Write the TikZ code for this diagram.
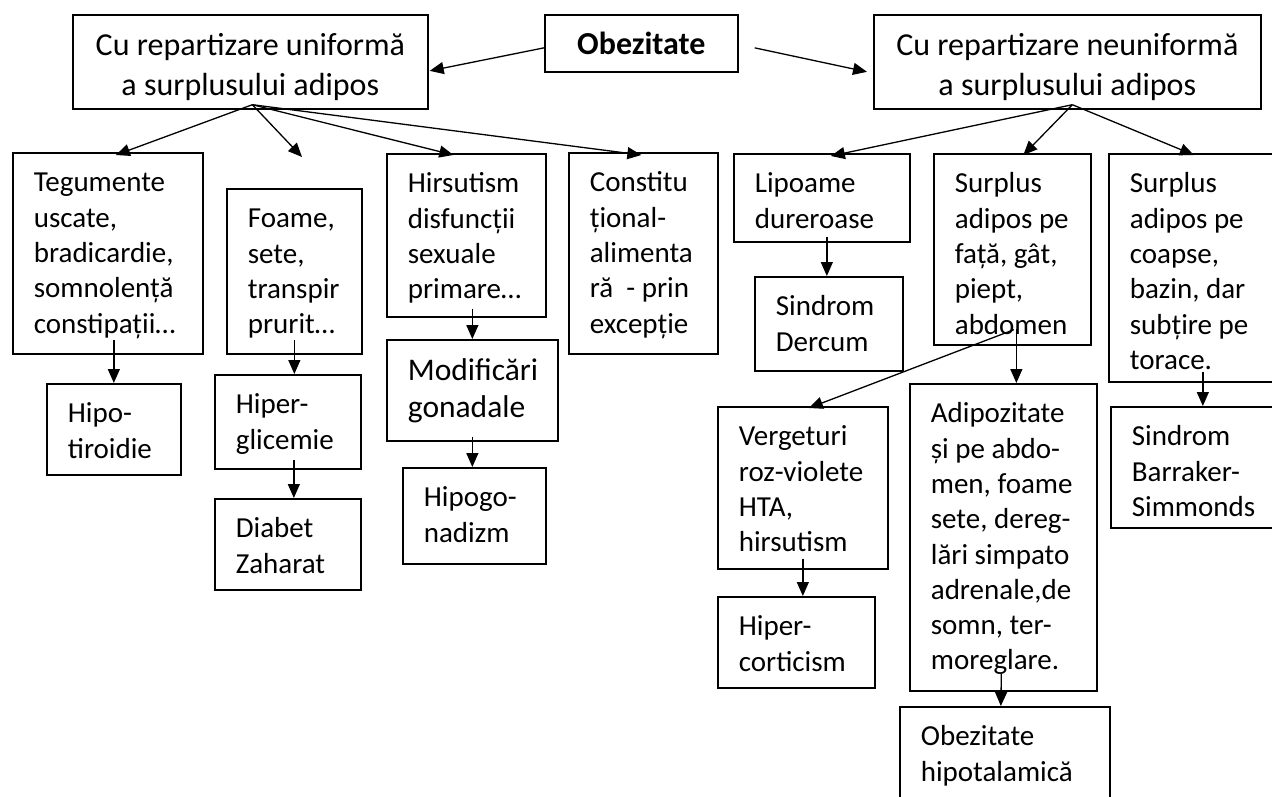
\documentclass[tikz,border=0pt]{standalone}
\usepackage{fontspec}
\setmainfont{Carlito}
\usetikzlibrary{arrows.meta, calc}
\hyphenpenalty=10000
\exhyphenpenalty=10000

\begin{document}
\begin{tikzpicture}[x=1pt, y=-1pt,
	head/.style={draw, line width=1.7pt, inner sep=0pt, anchor=north west, align=flush center, text height=41pt, text depth=53pt, font=\fontsize{32}{40}\selectfont},
	box/.style={draw, line width=1.7pt, inner xsep=21pt, inner ysep=0pt, anchor=north west, align=flush left, text height=39pt, font=\fontsize{29}{35.3}\selectfont},
	arr/.style={line width=1.3pt, -{Triangle[length=14pt, width=12pt]}}]
	\useasboundingbox (0,0) rectangle (1272,796);
	\node (uni) at (72,14) [head, text width=355pt] {Cu repartizare uniformă\\a surplusului adipos};
	\node (obez) at (544,14) [draw, line width=1.7pt, inner sep=0pt, anchor=north west, font=\bfseries\fontsize{32}{39}\selectfont, minimum width=193pt, minimum height=57pt] {Obezitate};
	\node (neuni) at (873,14) [head, text width=387pt] {Cu repartizare neuniformă\\a surplusului adipos};
	\node (teg) at (12,152) [box, text width=148pt, text depth=162pt] {Tegumente\\uscate,\\bradicardie,\\somnolență\\constipații…};
	\node (foame) at (226,188) [box, text width=93pt, text depth=126pt] {Foame,\\sete,\\transpir\\prurit…};
	\node (hirs) at (386,153) [box, text width=117pt, text depth=124pt] {Hirsutism\\disfuncții\\sexuale\\primare…};
	\node (const) at (568,152) [box, text width=107pt, text depth=162pt] {Constitu\\țional-\\alimenta\\ră~~-~prin\\excepție};
	\node (lipo) at (733,153) [box, text width=134pt, text depth=49pt] {Lipoame\\dureroase};
	\node (sfata) at (933,153) [box, text width=115pt, text depth=152pt] {Surplus\\adipos~pe\\față,~gât,\\piept,\\abdomen};
	\node (scoap) at (1108,153) [box, text width=170pt, text depth=189pt] {Surplus\\adipos~pe\\coapse,\\bazin,~dar\\subțire~pe\\torace.};
	\node (hipo) at (46,383) [box, text width=92pt, text depth=52pt] {Hipo-\\tiroidie};
	\node (hiper) at (214,374) [box, text width=104pt, text depth=55pt] {Hiper-\\glicemie};
	\node (diab) at (214,498) [box, text width=104pt, text depth=52pt] {Diabet\\Zaharat};
	\node (modif) at (386,339) [box, font=\fontsize{31.5}{37}\selectfont, text height=41pt, text width=129pt, text depth=60pt] {Modificări\\gonadale};
	\node (hipogo) at (402,467) [box, text width=101pt, text depth=57pt] {Hipogo-\\nadizm};
	\node (derc) at (754,276) [box, text width=106pt, text depth=55pt] {Sindrom\\Dercum};
	\node (verg) at (717,406) [box, text width=128pt, text depth=123pt] {Vergeturi\\roz-violete\\HTA,\\hirsutism};
	\node (hcort) at (717,596) [box, text width=115pt, text depth=52pt] {Hiper-\\corticism};
	\node (adip) at (909,383) [box, text width=145pt, text depth=268pt] {Adipozitate\\și~pe~abdo-\\men,~foame\\sete,~dereg-\\lări~simpato\\adrenale,de\\somn,~ter-\\moreglare.};
	\node (obhip) at (899,706) [box, text width=168pt, text depth=58pt] {Obezitate\\hipotalamică};
	\node (barr) at (1110,406) [box, text width=170pt, text depth=82pt] {Sindrom\\Barraker-\\Simmonds};
	\coordinate (us) at ($(uni.south)+(2,-5)$);
	\coordinate (ns) at ($(neuni.south)+(5,-5)$);
	\coordinate (fend) at (302,157);
	\coordinate (sb) at ($(scoap.south)+(-12,-11)$);
	\draw [arr] ($(obez.west)+(0,4.5)$) -- ($(uni.east)+(1,9)$);
	\draw [arr] ($(obez.east)+(16,4.5)$) -- ($(neuni.west)+(-6,10)$);
	\draw [arr] (us) -- ($(teg.north)+(8,3)$);
	\draw [arr] (us) -- (fend);
	\draw [arr] (us) -- ($(hirs.north)+(-13,2)$);
	\draw [arr] (us) -- ($(const.north)+(-2,3)$);
	\draw [arr] (ns) -- ($(lipo.north)+(9,3)$);
	\draw [arr] (ns) -- ($(sfata.north)+(11,2)$);
	\draw [arr] (ns) -- ($(scoap.north)+(-21,2)$);
	\draw [arr] ($(teg.south)+(6,-15)$) -- (hipo.north);
	\draw [arr] ($(foame.south)+(0,-15)$) -- (foame.south |- hiper.north);
	\draw [arr] ($(hiper.south)+(6,-10)$) -- ($(diab.north)+(6,0)$);
	\draw [arr] ($(hirs.south)+(6,-9)$) -- (modif.north);
	\draw [arr] ($(modif.south)+(0,-5)$) -- (modif.south |- hipogo.north);
	\draw [arr] ($(lipo.south)+(5,-6)$) -- ($(derc.north)+(-2,0)$);
	\draw [arr] ($(sfata.south)+(4,-17)$) -- ($(adip.north)+(13,0)$);
	\draw [arr] ($(sfata.south)+(1.5,-16)$) -- ($(verg.north)+(6,2)$);
	\draw [arr] ($(verg.south)+(0,-11)$) -- (verg.south |- hcort.north);
	\draw [arr] ($(adip.south)+(-2,-18)$) -- ($(obhip.north)+(-4,0)$);
	\draw [arr] (sb) -- (sb |- barr.north);
\end{tikzpicture}
\end{document}
